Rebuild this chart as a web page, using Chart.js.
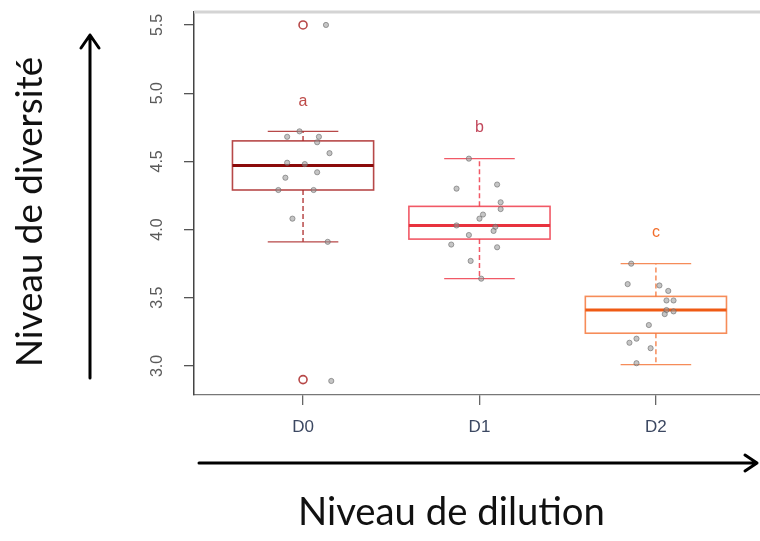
<!DOCTYPE html>
<html>
<head>
<meta charset="utf-8">
<script src="https://cdn.jsdelivr.net/npm/chart.js@4/dist/chart.umd.min.js"></script>
<style>
  html, body { margin: 0; padding: 0; background: #fff; }
  #wrap { width: 760px; height: 541px; position: relative; }
</style>
</head>
<body>
<div id="wrap"><canvas id="boxplot"></canvas></div>
<script>
    "use strict";

    // Data
    const categories = ["D0", "D1", "D2"];
    const yTicks = [3.0, 3.5, 4.0, 4.5, 5.0, 5.5];
    const whiskerLow = [3.91, 3.64, 3.01];
    const q1 = [4.29, 3.93, 3.24];
    const medians = [4.47, 4.03, 3.41];
    const q3 = [4.65, 4.17, 3.51];
    const whiskerHigh = [4.72, 4.52, 3.75];
    const outlierGroup = [0, 0];
    const outlierValues = [5.5, 2.9];
    const letters = ["a", "b", "c"];
    const letterY = [4.94, 4.75, 3.98];

    // raw observations (stripchart, jittered)
    const d0Values = [5.50, 4.72, 4.68, 4.68, 4.64, 4.56, 4.49, 4.48, 4.42, 4.38, 4.29, 4.29, 4.08, 3.91, 2.89];
    const d0Jitter = [0.13, -0.02, -0.09, 0.09, 0.08, 0.15, -0.09, 0.01, 0.08, -0.10, -0.14, 0.06, -0.06, 0.14, 0.16];
    const d1Values = [4.52, 4.30, 4.33, 4.20, 4.15, 4.11, 4.08, 4.03, 4.02, 3.99, 3.96, 3.89, 3.87, 3.77, 3.64];
    const d1Jitter = [-0.06, -0.13, 0.10, 0.12, 0.12, 0.02, 0.00, -0.13, 0.09, 0.08, -0.06, -0.16, 0.10, -0.05, 0.01];
    const d2Values = [3.75, 3.60, 3.59, 3.55, 3.48, 3.48, 3.41, 3.40, 3.38, 3.30, 3.20, 3.17, 3.13, 3.02];
    const d2Jitter = [-0.14, -0.16, 0.02, 0.07, 0.06, 0.10, 0.06, 0.10, 0.05, -0.04, -0.11, -0.15, -0.03, -0.11];

    // Styles
    const boxWidth = 0.8;
    const groupColors = [
        {box: "rgba(170, 40, 40, 0.85)", median: "#8b0a0a", letter: "#bd4a48"},
        {box: "rgba(238, 60, 75, 0.85)", median: "#e8323e", letter: "#c2485c"},
        {box: "rgba(245, 120, 60, 0.85)", median: "#ef5a14", letter: "#f26d2a"}
    ];

    const groups = [[d0Values, d0Jitter], [d1Values, d1Jitter], [d2Values, d2Jitter]];
    const stripPoints = [];
    groups.forEach(function (g, i) {
        g[0].forEach(function (v, k) {
            stripPoints.push({x: i + 1 + g[1][k], y: v});
        });
    });
    const outlierPoints = outlierValues.map(function (v, k) {
        return {x: outlierGroup[k] + 1, y: v};
    });

    // Boxes, whiskers and letters drawn through the chart scales
    const boxPlugin = {
        id: "boxes",
        beforeDatasetsDraw(chart) {
            const ctx = chart.ctx;
            const x = chart.scales.x, y = chart.scales.y;
            ctx.save();
            categories.forEach(function (c, i) {
                const cx = x.getPixelForValue(i + 1);
                const half = x.getPixelForValue(i + 1 + boxWidth / 2) - cx;
                const col = groupColors[i];
                const yq1 = y.getPixelForValue(q1[i]);
                const yq3 = y.getPixelForValue(q3[i]);
                const ylo = y.getPixelForValue(whiskerLow[i]);
                const yhi = y.getPixelForValue(whiskerHigh[i]);
                const ymed = y.getPixelForValue(medians[i]);

                // whiskers
                ctx.strokeStyle = col.box;
                ctx.lineWidth = 1.5;
                ctx.setLineDash([5, 3]);
                ctx.beginPath();
                ctx.moveTo(cx, yq3); ctx.lineTo(cx, yhi);
                ctx.moveTo(cx, yq1); ctx.lineTo(cx, ylo);
                ctx.stroke();
                ctx.setLineDash([]);
                ctx.lineWidth = 1.2;
                ctx.beginPath();
                ctx.moveTo(cx - half / 2, yhi); ctx.lineTo(cx + half / 2, yhi);
                ctx.moveTo(cx - half / 2, ylo); ctx.lineTo(cx + half / 2, ylo);
                ctx.stroke();

                // box
                ctx.lineWidth = 1.6;
                ctx.strokeRect(cx - half, yq3, half * 2, yq1 - yq3);

                // median
                ctx.strokeStyle = col.median;
                ctx.lineWidth = 3;
                ctx.beginPath();
                ctx.moveTo(cx - half, ymed); ctx.lineTo(cx + half, ymed);
                ctx.stroke();

                // significance letter
                ctx.fillStyle = col.letter;
                ctx.font = "16px 'Liberation Sans', Arial, sans-serif";
                ctx.textAlign = "center";
                ctx.textBaseline = "middle";
                ctx.fillText(letters[i], cx, y.getPixelForValue(letterY[i]));
            });
            ctx.restore();
        },
        afterDraw(chart) {
            const ctx = chart.ctx;
            const area = chart.chartArea;
            const y = chart.scales.y;
            ctx.save();

            // faint top frame
            ctx.strokeStyle = "#d4d4d4";
            ctx.lineWidth = 3;
            ctx.beginPath();
            ctx.moveTo(area.left, area.top);
            ctx.lineTo(area.right, area.top);
            ctx.stroke();

            // rotated y tick labels
            ctx.fillStyle = "#5a5a5a";
            ctx.font = "16px 'Liberation Sans', Arial, sans-serif";
            ctx.textAlign = "center";
            ctx.textBaseline = "middle";
            y.ticks.forEach(function (t) {
                ctx.save();
                ctx.translate(158, y.getPixelForValue(t.value));
                ctx.rotate(-Math.PI / 2);
                ctx.fillText(t.value.toFixed(1), 0, 0);
                ctx.restore();
            });

            // big axis titles and arrows
            ctx.fillStyle = "#111";
            ctx.strokeStyle = "#000";
            ctx.lineWidth = 3;
            ctx.lineCap = "round";
            ctx.lineJoin = "round";

            ctx.beginPath();
            ctx.moveTo(90, 378); ctx.lineTo(90, 35);
            ctx.moveTo(81, 48); ctx.lineTo(90, 35); ctx.lineTo(99, 48);
            ctx.stroke();

            ctx.beginPath();
            ctx.moveTo(199, 463); ctx.lineTo(757, 463);
            ctx.moveTo(745, 455); ctx.lineTo(757, 463); ctx.lineTo(745, 471);
            ctx.stroke();

            function fitFont(text, width) {
                ctx.font = "40px Lato, sans-serif";
                const size = 40 * width / ctx.measureText(text).width;
                ctx.font = size.toFixed(1) + "px Lato, sans-serif";
            }

            const xTitle = "Niveau de dilution";
            fitFont(xTitle, 307);
            ctx.textAlign = "left";
            ctx.textBaseline = "alphabetic";
            ctx.fillText(xTitle, 298, 525);

            const yTitle = "Niveau de diversité";
            fitFont(yTitle, 310);
            ctx.save();
            ctx.translate(42, 367);
            ctx.rotate(-Math.PI / 2);
            ctx.fillText(yTitle, 0, 0);
            ctx.restore();

            ctx.restore();
        }
    };

    const ctx = document.getElementById("boxplot").getContext("2d");
    const myChart = new Chart(ctx, {
        type: "scatter",
        data: {
            datasets: [{
                label: "observations",
                data: stripPoints,
                pointRadius: 2.6,
                pointBackgroundColor: "rgba(150, 150, 150, 0.55)",
                pointBorderColor: "rgba(105, 105, 105, 0.6)",
                pointBorderWidth: 1
            },
                {
                    label: "outliers",
                    data: outlierPoints,
                    pointRadius: 4,
                    pointBackgroundColor: "rgba(0, 0, 0, 0)",
                    pointBorderColor: outlierGroup.map(function (g) { return groupColors[g].box; }),
                    pointBorderWidth: 1.6
                }
            ]
        },
        options: {
            responsive: true,
            maintainAspectRatio: false,
            animation: false,
            layout: {autoPadding: false, padding: {top: 12, left: 0, right: 0, bottom: 0}},
            plugins: {legend: {display: false}, tooltip: {enabled: false}},
            scales: {
                x: {
                    type: "linear",
                    min: 0.382,
                    max: 3.59,
                    afterBuildTicks: function (s) {
                        s.ticks = categories.map(function (c, i) { return {value: i + 1}; });
                    },
                    afterFit: function (s) {
                        s.height = 146;
                        s.paddingLeft = 0;
                        s.paddingRight = 0;
                    },
                    ticks: {
                        callback: function (v) { return categories[v - 1]; },
                        color: "#3c4862",
                        font: {family: "'Liberation Sans', Arial, sans-serif", size: 17},
                        padding: 12,
                        maxRotation: 0
                    },
                    grid: {drawOnChartArea: false, tickLength: 10, color: "#666", lineWidth: 1.3},
                    border: {display: true, color: "#777", width: 1.3}
                },
                y: {
                    type: "linear",
                    min: 2.787,
                    max: 5.595,
                    afterBuildTicks: function (s) {
                        s.ticks = yTicks.map(function (v) { return {value: v}; });
                    },
                    afterFit: function (s) {
                        s.width = 194;
                        s.paddingTop = 0;
                        s.paddingBottom = 0;
                    },
                    ticks: {display: false},
                    grid: {drawOnChartArea: false, tickLength: 10, color: "#555", lineWidth: 1.3},
                    border: {display: true, color: "#444", width: 1.5}
                }
            }
        },
        plugins: [boxPlugin]
    });
</script>
</body>
</html>
